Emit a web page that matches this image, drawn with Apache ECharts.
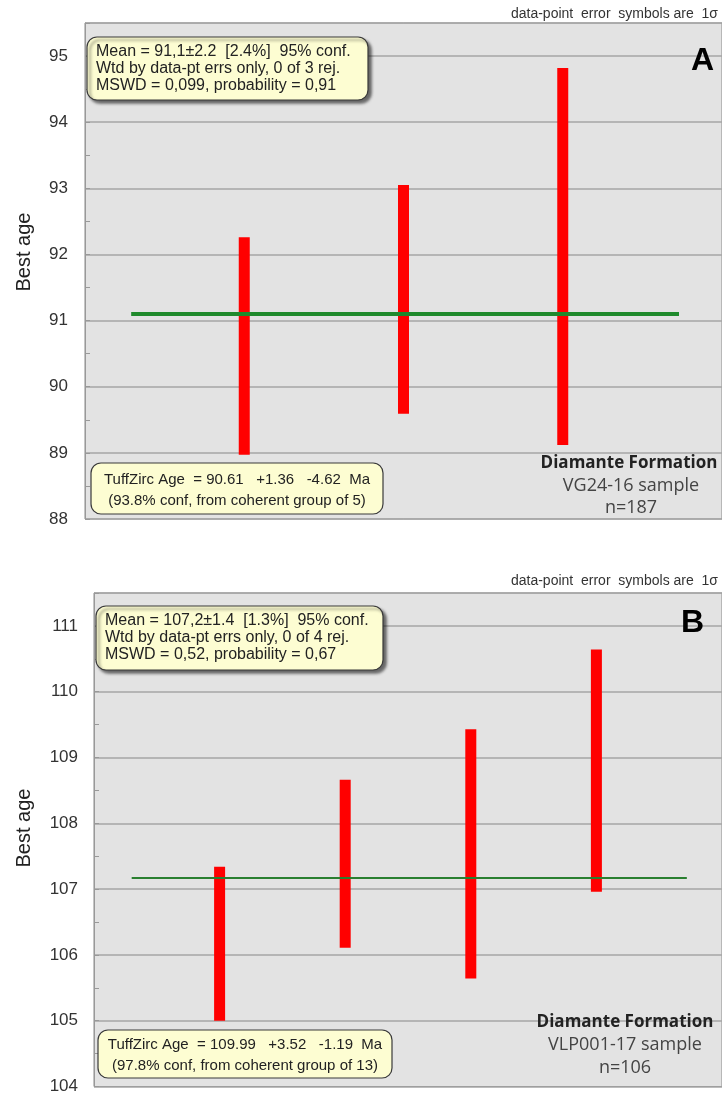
<!DOCTYPE html>
<html>
<head>
<meta charset="utf-8">
<script src="https://cdn.jsdelivr.net/npm/echarts@6/dist/echarts.min.js"></script>
<style>html,body{margin:0;padding:0;background:#fff}#chart{width:722px;height:1095px}</style>
</head>
<body>
<div id="chart"></div>
<script>
// panel A : VG24-16
var posA = [1, 2, 3];
var lowA = [88.97, 89.59, 89.12];
var highA = [92.26, 93.05, 94.82];
var meanA = 91.1;
var meanSpanA = [0.29, 3.73];

// panel B : VLP001-17
var posB = [1, 2, 3, 4];
var lowB = [105.0, 106.11, 105.64, 106.96];
var highB = [107.34, 108.66, 109.43, 110.64];
var meanB = 107.17;
var meanSpanB = [0.3, 4.72];

var myChart = echarts.init(document.getElementById('chart'));
var ff = 'Liberation Sans, Arial, sans-serif';
var boxFill = '#fdfdd2';

function errBar(params, api) {
    var top = api.coord([api.value(0), api.value(2)]);
    var bot = api.coord([api.value(0), api.value(1)]);
    return {
        type: 'rect',
        shape: {x: top[0] - 5.5, y: top[1], width: 11, height: bot[1] - top[1]},
        style: {fill: '#ff0000'}
    };
}

function yAx(idx, min, max, margin) {
    return {
        gridIndex: idx, type: 'value', min: min, max: max, interval: 1,
        axisLine: {show: true, lineStyle: {color: '#999'}},
        axisTick: {show: true, inside: true, length: 5, lineStyle: {color: '#999'}},
        minorTick: {show: true, splitNumber: 2, length: 5, lineStyle: {color: '#999'}},
        splitLine: {show: true, lineStyle: {color: '#a6a6a6', width: 1.5}},
        axisLabel: {fontSize: 17, color: '#333', margin: margin, fontFamily: ff,
            formatter: function (v) { return v % 1 === 0 ? String(v) : ''; }}
    };
}

function txt(x, y, s, size, opt) {
    opt = opt || {};
    return {
        type: 'text', x: x, y: y, z: 100, rotation: opt.rot || 0,
        style: {
            text: s, fontSize: size, fontFamily: opt.font || ff,
            fontWeight: opt.bold ? 'bold' : 'normal', fill: opt.color || '#222',
            align: opt.align || 'left', textAlign: opt.align || 'left',
            verticalAlign: 'middle', textVerticalAlign: 'middle'
        }
    };
}

function box(x, y, w, h, shadow) {
    return {
        type: 'rect', z: 90,
        shape: {x: x, y: y, width: w, height: h, r: 10},
        style: {
            fill: boxFill, stroke: '#3a3a3a', lineWidth: 1.2,
            shadowBlur: shadow ? 3 : 0, shadowOffsetX: shadow ? 3 : 0, shadowOffsetY: shadow ? 3 : 0,
            shadowColor: 'rgba(0,0,0,0.55)'
        }
    };
}

myChart.setOption({
    animation: false,
    grid: [
        {left: 85, top: 23, height: 496, right: -7, show: true, backgroundColor: '#e3e3e3', borderColor: '#8a8a8a', borderWidth: 1},
        {left: 94, top: 593, height: 495, right: 0, show: true, backgroundColor: '#e3e3e3', borderColor: '#8a8a8a', borderWidth: 1}
    ],
    xAxis: [
        {gridIndex: 0, type: 'value', min: 0, max: 4, show: false},
        {gridIndex: 1, type: 'value', min: 0, max: 5, show: false}
    ],
    yAxis: [yAx(0, 88, 95.5, 17), yAx(1, 104, 111.5, 16)],
    series: [
        {
            type: 'custom', xAxisIndex: 0, yAxisIndex: 0, renderItem: errBar,
            encode: {x: 0, y: [1, 2]}, z: 2,
            data: posA.map(function (p, i) { return [p, lowA[i], highA[i]]; })
        },
        {
            type: 'line', xAxisIndex: 0, yAxisIndex: 0, symbol: 'none', z: 3,
            lineStyle: {color: '#1f8a2c', width: 4},
            data: [[meanSpanA[0], meanA], [meanSpanA[1], meanA]]
        },
        {
            type: 'custom', xAxisIndex: 1, yAxisIndex: 1, renderItem: errBar,
            encode: {x: 0, y: [1, 2]}, z: 2,
            data: posB.map(function (p, i) { return [p, lowB[i], highB[i]]; })
        },
        {
            type: 'line', xAxisIndex: 1, yAxisIndex: 1, symbol: 'none', z: 3,
            lineStyle: {color: '#2a7f30', width: 2},
            data: [[meanSpanB[0], meanB], [meanSpanB[1], meanB]]
        }
    ],
    graphic: [
        txt(718, 14, 'data-point  error  symbols are  1σ', 14, {align: 'right', color: '#333'}),
        txt(718, 581, 'data-point  error  symbols are  1σ', 14, {align: 'right', color: '#333'}),
        txt(714, 61, 'A', 32, {align: 'right', bold: true, color: '#000'}),
        txt(704, 623, 'B', 32, {align: 'right', bold: true, color: '#000'}),
        txt(24, 252, 'Best age', 20, {align: 'center', rot: Math.PI / 2}),
        txt(24, 828, 'Best age', 20, {align: 'center', rot: Math.PI / 2}),

        box(87, 37, 281, 63, true),
        txt(96, 52, 'Mean = 91,1±2.2  [2.4%]  95% conf.', 16),
        txt(96, 69, 'Wtd by data-pt errs only, 0 of 3 rej.', 16),
        txt(96, 86, 'MSWD = 0,099, probability = 0,91', 16),

        box(91, 463, 292, 51, false),
        txt(237, 480, 'TuffZirc Age  = 90.61   +1.36   -4.62  Ma', 15, {align: 'center'}),
        txt(237, 501, '(93.8% conf, from coherent group of 5)', 15, {align: 'center'}),

        txt(629, 463, 'Diamante Formation', 17, {align: 'center', bold: true, font: 'Open Sans', color: '#222'}),
        txt(631, 486, 'VG24-16 sample', 18, {align: 'center', font: 'Open Sans', color: '#444'}),
        txt(631, 508, 'n=187', 18, {align: 'center', font: 'Open Sans', color: '#444'}),

        box(96, 606, 287, 64, true),
        txt(105, 621, 'Mean = 107,2±1.4  [1.3%]  95% conf.', 16),
        txt(105, 638, 'Wtd by data-pt errs only, 0 of 4 rej.', 16),
        txt(105, 655, 'MSWD = 0,52, probability = 0,67', 16),

        box(98, 1030, 294, 48, false),
        txt(245, 1045, 'TuffZirc Age  = 109.99   +3.52   -1.19  Ma', 15, {align: 'center'}),
        txt(245, 1066, '(97.8% conf, from coherent group of 13)', 15, {align: 'center'}),

        txt(625, 1022, 'Diamante Formation', 17, {align: 'center', bold: true, font: 'Open Sans', color: '#222'}),
        txt(625, 1045, 'VLP001-17 sample', 18, {align: 'center', font: 'Open Sans', color: '#444'}),
        txt(625, 1068, 'n=106', 18, {align: 'center', font: 'Open Sans', color: '#444'})
    ]
});
</script>
</body>
</html>
